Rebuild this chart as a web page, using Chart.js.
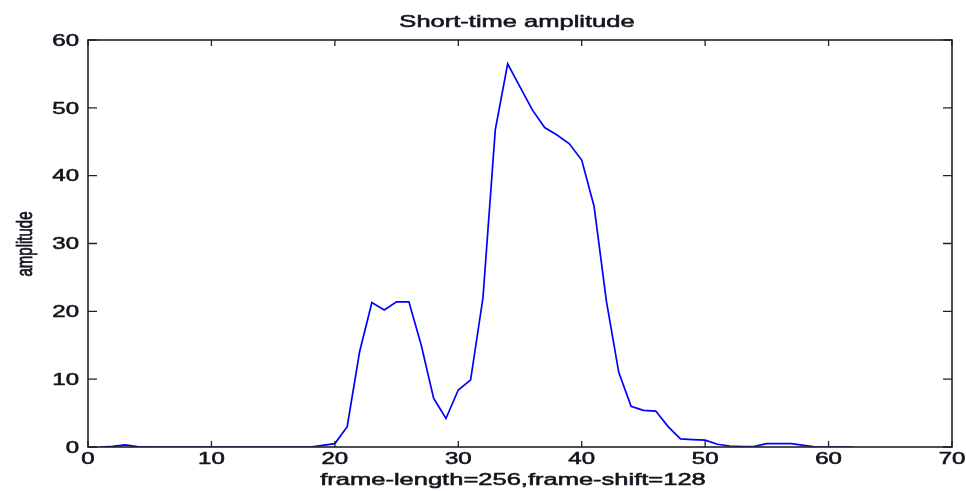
<!DOCTYPE html>
<html>
<head>
<meta charset="utf-8">
<title>Short-time amplitude</title>
<script src="https://cdn.jsdelivr.net/npm/chart.js@4.4.0/dist/chart.umd.min.js"></script>
<style>
    html, body { margin: 0; padding: 0; background: #fff; }
    #wrap { width: 966px; height: 491px; }
</style>
</head>
<body>
<div id="wrap"><canvas id="amp-chart" width="966" height="491"></canvas></div>
<script>
// frame index and short-time amplitude per frame
const frames = Array.from({ length: 62 }, (_, i) => i + 1);
const amplitude = [
    0, 0.1, 0.3, 0.05, 0, 0, 0, 0, 0, 0,
    0, 0, 0, 0, 0, 0, 0, 0, 0.25, 0.5,
    3.0, 14, 21.3, 20.2, 21.4, 21.4, 15.0, 7.2, 4.2, 8.4,
    9.9, 22, 46.8, 56.5, 53.1, 49.7, 47.1, 46.0, 44.7, 42.3,
    35.5, 21.5, 11, 6.0, 5.4, 5.3, 3.0, 1.2, 1.1, 1.0,
    0.4, 0.15, 0.05, 0.1, 0.5, 0.5, 0.5, 0.25, 0, 0,
    0, 0
];
const xTicks = [0, 10, 20, 30, 40, 50, 60, 70];
const yTicks = [0, 10, 20, 30, 40, 50, 60];

const titleText  = "Short-time amplitude";
const xLabelText = "frame-length=256,frame-shift=128";
const yLabelText = "amplitude";

const FONT = "'Liberation Sans', Arial, sans-serif";
const SX = 1.5;   // text is drawn wide, like the old figure export
const INK = "#14141e";

function inkText(ctx, text) {
    ctx.fillStyle = INK;
    ctx.strokeStyle = INK;
    ctx.lineWidth = 0.55;
    ctx.fillText(text, 0, 0);
    ctx.strokeText(text, 0, 0);
}

function wideText(ctx, text, x, y, align, font) {
    ctx.save();
    ctx.translate(x, y);
    ctx.scale(SX, 1);
    ctx.font = font;
    ctx.textAlign = align;
    ctx.textBaseline = "alphabetic";
    inkText(ctx, text);
    ctx.restore();
}

// box, inward ticks on all four sides, tick labels and titles
const matlabAxes = {
    id: "matlabAxes",
    afterDraw(chart) {
        const { ctx, chartArea: a, scales: { x, y } } = chart;
        ctx.save();
        ctx.strokeStyle = "#222";
        ctx.lineWidth = 1.6;
        ctx.strokeRect(a.left, a.top, a.right - a.left, a.bottom - a.top);

        ctx.lineWidth = 1.3;
        ctx.beginPath();
        xTicks.forEach(v => {
            const px = x.getPixelForValue(v);
            ctx.moveTo(px, a.bottom); ctx.lineTo(px, a.bottom - 6);
            ctx.moveTo(px, a.top);    ctx.lineTo(px, a.top + 6);
        });
        yTicks.forEach(v => {
            const py = y.getPixelForValue(v);
            ctx.moveTo(a.left, py);  ctx.lineTo(a.left + 9, py);
            ctx.moveTo(a.right, py); ctx.lineTo(a.right - 9, py);
        });
        ctx.stroke();
        ctx.restore();

        const tickFont = "16px " + FONT;
        xTicks.forEach(v => {
            wideText(ctx, String(v), x.getPixelForValue(v), a.bottom + 16.5, "center", tickFont);
        });
        yTicks.forEach(v => {
            wideText(ctx, String(v), a.left - 9, y.getPixelForValue(v) + 5.8, "right", tickFont);
        });

        wideText(ctx, titleText, 517, 27, "center", "17px " + FONT);
        wideText(ctx, xLabelText, 513, 485, "center", "17px " + FONT);

        ctx.save();
        ctx.translate(26, 244);
        ctx.scale(SX, 1);
        ctx.rotate(-Math.PI / 2);
        ctx.font = "15px " + FONT;
        ctx.textAlign = "center";
        ctx.textBaseline = "middle";
        inkText(ctx, yLabelText);
        ctx.restore();
    }
};

new Chart(document.getElementById("amp-chart"), {
    type: "line",
    data: {
        datasets: [{
            label: "amplitude",
            data: frames.map((f, i) => ({ x: f, y: amplitude[i] })),
            borderColor: "#0000ff",
            borderWidth: 1.7,
            pointRadius: 0,
            tension: 0,
            fill: false
        }]
    },
    options: {
        responsive: false,
        animation: false,
        layout: { padding: { left: 88, top: 40, right: 14, bottom: 44 } },
        plugins: {
            legend: { display: false },
            tooltip: { enabled: false }
        },
        scales: {
            x: { type: "linear", min: 0, max: 70, display: false },
            y: { type: "linear", min: 0, max: 60, display: false }
        }
    },
    plugins: [matlabAxes]
});
</script>
</body>
</html>
